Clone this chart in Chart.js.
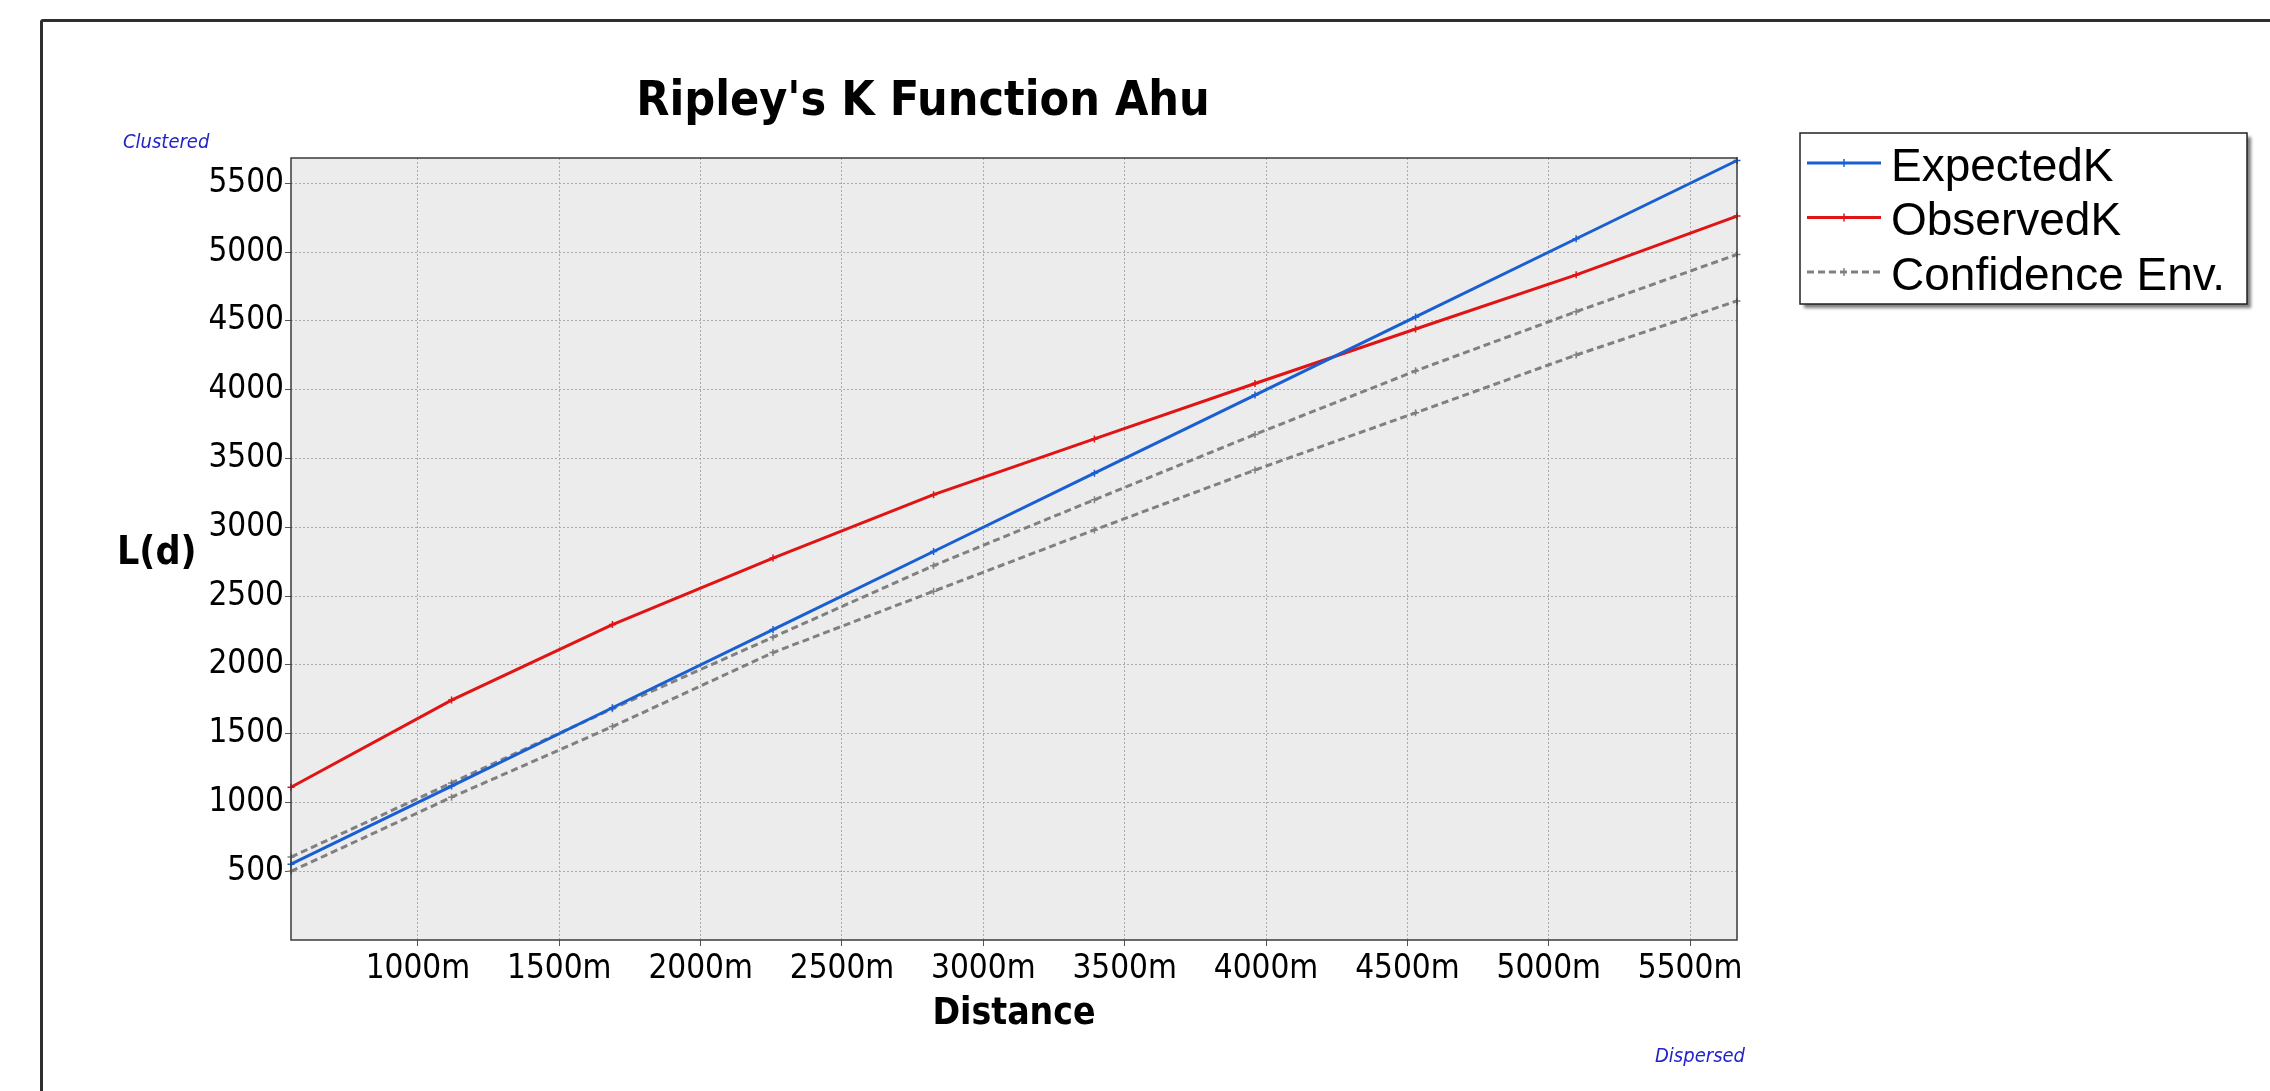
<!DOCTYPE html>
<html>
<head>
<meta charset="utf-8">
<title>Ripley's K Function Ahu</title>
<script src="https://cdn.jsdelivr.net/npm/chart.js@4.4.1/dist/chart.umd.min.js"></script>
<style>
  html, body { margin: 0; padding: 0; background: #fff; overflow: hidden; }
  #frame { position: absolute; left: 40px; top: 19px; width: 2400px; height: 1200px; border: 3px solid #2e2e2e; border-radius: 3px; }
  #wrap { position: absolute; left: 0; top: 0; width: 2270px; height: 1091px; }
</style>
</head>
<body>
<div id="frame"></div>
<div id="wrap"><canvas id="kChart" width="2270" height="1091"></canvas></div>
<script>
// distance bands (m) and the L(d) values
var distances = [551, 1119, 1688, 2256, 2824, 3393, 3961, 4529, 5097, 5666];
var expectedK = [551, 1119, 1688, 2256, 2824, 3393, 3961, 4529, 5097, 5666];
var observedK = [1110, 1744, 2293, 2776, 3237, 3642, 4045, 4441, 4835, 5262];
var upperEnv  = [603, 1142, 1681, 2201, 2721, 3200, 3675, 4137, 4567, 4983];
var lowerEnv  = [499, 1038, 1551, 2089, 2535, 2981, 3416, 3832, 4252, 4645];

var xTicks = [1000, 1500, 2000, 2500, 3000, 3500, 4000, 4500, 5000, 5500];
var yTicks = [500, 1000, 1500, 2000, 2500, 3000, 3500, 4000, 4500, 5000, 5500];

var CF = "'DejaVu Sans Condensed', 'DejaVu Sans', sans-serif";

function pts(values) {
  return distances.map(function(d, i) { return { x: d, y: values[i] }; });
}

var chartDecor = {
  id: 'chartDecor',
  beforeDraw: function(chart) {
    var a = chart.chartArea, ctx = chart.ctx;
    ctx.save();
    ctx.fillStyle = '#ececec';
    ctx.fillRect(a.left, a.top, a.right - a.left, a.bottom - a.top);
    ctx.restore();
  },
  afterDraw: function(chart) {
    var a = chart.chartArea, ctx = chart.ctx;
    ctx.save();
    // plot frame
    ctx.strokeStyle = '#3a3a3a';
    ctx.lineWidth = 1.5;
    ctx.strokeRect(a.left, a.top, a.right - a.left, a.bottom - a.top);

    // titles
    ctx.fillStyle = '#000';
    ctx.textBaseline = 'alphabetic';
    ctx.textAlign = 'center';
    ctx.font = 'bold 48px ' + CF;
    ctx.fillText("Ripley's K Function Ahu", 923, 115);
    ctx.font = 'bold 37px ' + CF;
    ctx.fillText('Distance', (a.left + a.right) / 2, 1024);
    ctx.textAlign = 'left';
    ctx.font = 'bold 39px ' + CF;
    ctx.fillText('L(d)', 117, 564);

    ctx.fillStyle = '#2323c8';
    ctx.font = 'italic 20px ' + CF;
    ctx.fillText('Clustered', 123, 148);
    ctx.textAlign = 'right';
    ctx.fillText('Dispersed', 1745, 1062);

    // legend box
    var bx = 1800, by = 133, bw = 447, bh = 171;
    ctx.save();
    ctx.shadowColor = 'rgba(0,0,0,0.5)';
    ctx.shadowOffsetX = 4;
    ctx.shadowOffsetY = 4;
    ctx.shadowBlur = 3;
    ctx.fillStyle = '#fff';
    ctx.fillRect(bx, by, bw, bh);
    ctx.restore();
    ctx.strokeStyle = '#222';
    ctx.lineWidth = 1.5;
    ctx.strokeRect(bx, by, bw, bh);

    var row = 0;
    chart.data.datasets.forEach(function(ds) {
      if (ds.inLegend === false) return;
      var cy = 163 + row * 54.5;
      ctx.strokeStyle = ds.borderColor;
      ctx.lineWidth = 3;
      ctx.setLineDash(ds.borderDash || []);
      ctx.beginPath();
      ctx.moveTo(1807, cy);
      ctx.lineTo(1881, cy);
      ctx.stroke();
      ctx.setLineDash([]);
      ctx.lineWidth = 1.5;
      ctx.beginPath();
      ctx.moveTo(1844, cy - 4);
      ctx.lineTo(1844, cy + 4);
      ctx.stroke();
      ctx.fillStyle = '#000';
      ctx.textAlign = 'left';
      ctx.font = "46px 'Liberation Sans', Arial, sans-serif";
      ctx.fillText(ds.label, 1891, cy + 17.5);
      row++;
    });
    ctx.restore();
  }
};

function lineSet(label, values, color, dash, inLegend) {
  return {
    label: label,
    data: pts(values),
    borderColor: color,
    backgroundColor: color,
    borderWidth: 3,
    borderDash: dash,
    pointStyle: 'cross',
    pointRadius: 3.5,
    pointBorderWidth: 1.5,
    pointBorderColor: color,
    fill: false,
    tension: 0,
    clip: false,
    inLegend: inLegend
  };
}

var kChart = new Chart(document.getElementById('kChart'), {
  type: 'line',
  data: {
    datasets: [
      lineSet('ExpectedK', expectedK, '#1a5fd2', [], true),
      lineSet('ObservedK', observedK, '#e01414', [], true),
      lineSet('Confidence Env.', upperEnv, '#808080', [7, 4], true),
      lineSet('Confidence Env.', lowerEnv, '#808080', [7, 4], false)
    ]
  },
  options: {
    responsive: false,
    animation: false,
    devicePixelRatio: 1,
    layout: { padding: { left: 0, top: 158, right: 533, bottom: 91 } },
    plugins: {
      legend: { display: false },
      title: { display: false },
      tooltip: { enabled: false }
    },
    scales: {
      x: {
        type: 'linear',
        min: 551,
        max: 5666,
        afterFit: function(s) { s.height = 60; },
        afterBuildTicks: function(s) { s.ticks = xTicks.map(function(v) { return { value: v }; }); },
        grid: { color: '#ababab', lineWidth: 1, drawTicks: true, tickLength: 6, tickColor: '#555', tickWidth: 1 },
        border: { display: false, dash: [2, 2] },
        ticks: {
          font: { family: CF, size: 33 },
          color: '#000',
          padding: 4,
          maxRotation: 0,
          autoSkip: false,
          callback: function(v) { return v + 'm'; }
        }
      },
      y: {
        type: 'linear',
        min: 0,
        max: 5684,
        afterFit: function(s) { s.width = 291; },
        afterBuildTicks: function(s) { s.ticks = yTicks.map(function(v) { return { value: v }; }); },
        grid: { color: '#ababab', lineWidth: 1, drawTicks: true, tickLength: 6, tickColor: '#555', tickWidth: 1 },
        border: { display: false, dash: [2, 2] },
        ticks: {
          font: { family: CF, size: 33 },
          color: '#000',
          padding: 1,
          autoSkip: false,
          callback: function(v) { return String(v); }
        }
      }
    }
  },
  plugins: [chartDecor]
});
</script>
</body>
</html>
